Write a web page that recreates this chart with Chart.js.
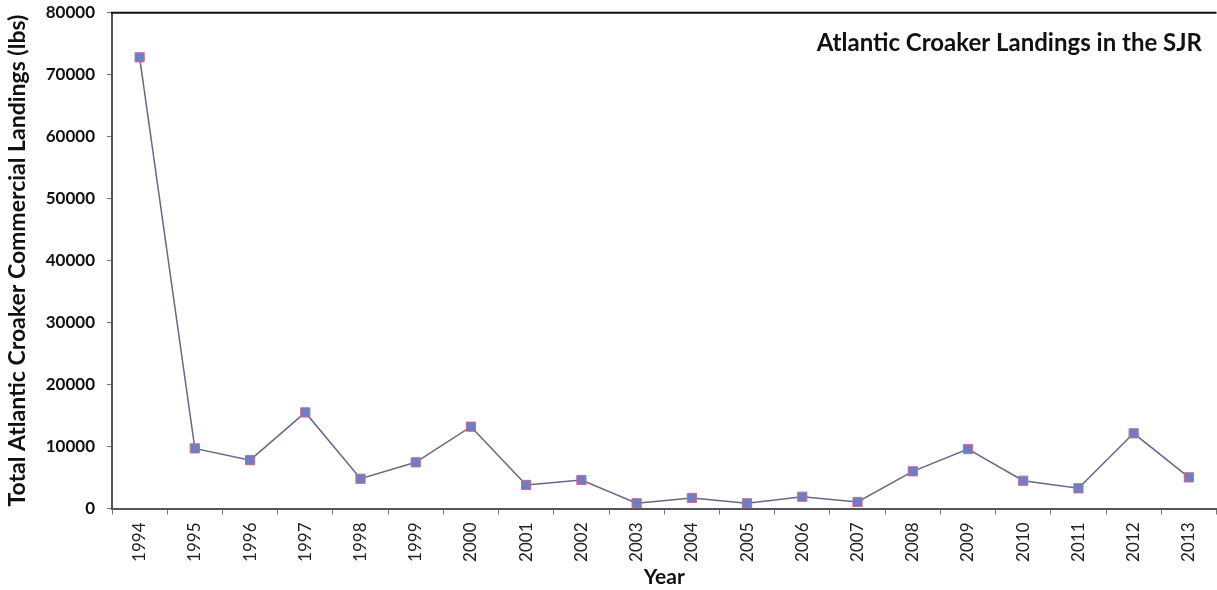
<!DOCTYPE html>
<html>
<head>
<meta charset="utf-8">
<script src="https://cdn.jsdelivr.net/npm/chart.js@4.4.1/dist/chart.umd.min.js"></script>
<style>
  html, body { margin: 0; padding: 0; background: #ffffff; overflow: hidden; }
  #wrap { width: 1224px; height: 590px; }
</style>
</head>
<body>
<div id="wrap"><canvas id="c" width="1224" height="590"></canvas></div>
<script>
const years = ["1994","1995","1996","1997","1998","1999","2000","2001","2002","2003",
               "2004","2005","2006","2007","2008","2009","2010","2011","2012","2013"];
const landings = [72800, 9700, 7800, 15500, 4800, 7450, 13200, 3800, 4600, 840,
                  1700, 840, 1900, 1050, 6000, 9600, 4480, 3260, 12130, 5030];
const yTicks = [0, 10000, 20000, 30000, 40000, 50000, 60000, 70000, 80000];
const chartTitle = "Atlantic Croaker Landings in the SJR";
const xTitle = "Year";
const yTitle = "Total Atlantic Croaker Commercial Landings (lbs)";

const FONT = "Lato, 'Open Sans', 'DejaVu Sans', sans-serif";

const decor = {
  id: 'decor',
  afterDraw(chart) {
    const {ctx, chartArea: a} = chart;
    ctx.save();
    ctx.strokeStyle = '#111';
    ctx.lineWidth = 2;
    ctx.beginPath();
    ctx.moveTo(a.left - 1, a.top);
    ctx.lineTo(a.right, a.top);
    ctx.stroke();
    ctx.fillStyle = '#111';
    ctx.font = "bold 24px " + FONT;
    ctx.textAlign = 'right';
    ctx.textBaseline = 'middle';
    ctx.fillText(chartTitle, 1202, 43);
    ctx.restore();
  }
};

new Chart(document.getElementById('c'), {
  type: 'line',
  data: {
    labels: years,
    datasets: [{
      data: landings,
      borderColor: '#66668c',
      borderWidth: 1.5,
      pointStyle: 'rect',
      pointRadius: 6.5,
      pointHoverRadius: 6.5,
      pointBackgroundColor: '#6f7ec4',
      pointBorderColor: '#c86a8a',
      pointBorderWidth: 1,
      tension: 0,
      fill: false
    }]
  },
  options: {
    responsive: false,
    animation: false,
    devicePixelRatio: 1,
    layout: { padding: { top: 12.7, right: 0, left: 0, bottom: 0 } },
    plugins: { legend: { display: false }, tooltip: { enabled: false }, title: { display: false } },
    scales: {
      x: {
        type: 'category',
        offset: true,
        afterFit: s => { s.height = 81.5; s.paddingLeft = 0; s.paddingRight = 0; },
        grid: { display: true, drawOnChartArea: false, drawTicks: true, tickLength: 6, color: '#777', offset: true },
        border: { display: true, color: '#555', width: 2 },
        ticks: {
          minRotation: 90, maxRotation: 90, autoSkip: false, padding: 8,
          color: '#222', font: { family: FONT, size: 17 }
        },
        title: {
          display: true, text: xTitle, color: '#111',
          font: { family: FONT, size: 21, weight: 'bold' },
          padding: { top: 0, bottom: 0 }
        }
      },
      y: {
        min: 0, max: 80000,
        afterFit: s => { s.width = 112; s.paddingTop = 0; s.paddingBottom = 0; },
        afterBuildTicks: s => { s.ticks = yTicks.map(v => ({ value: v })); },
        grid: { display: true, drawOnChartArea: false, drawTicks: true, tickLength: 5, color: '#777' },
        border: { display: true, color: '#555', width: 2 },
        ticks: {
          padding: 12, color: '#111',
          font: { family: FONT, size: 17, weight: 'bold' },
          callback: v => String(v)
        },
        title: {
          display: true, text: yTitle, color: '#111',
          font: { family: FONT, size: 23, weight: 'bold' },
          padding: { top: 4, bottom: 0 }
        }
      }
    }
  },
  plugins: [decor]
});
</script>
</body>
</html>
